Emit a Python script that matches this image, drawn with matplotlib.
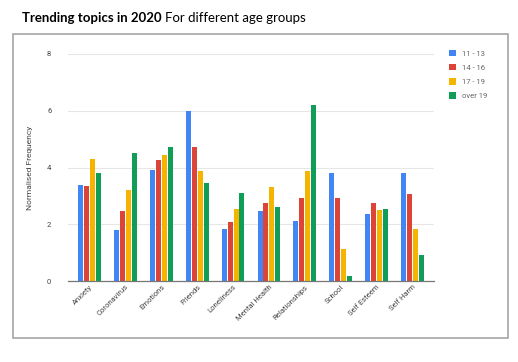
import matplotlib
matplotlib.use("Agg")
import matplotlib.pyplot as plt
from matplotlib.patches import Rectangle
import numpy as np

# datos
temas = ["Anxiety", "Coronavirus", "Emotions", "Friends", "Loneliness",
         "Mental Health", "Relationships", "School", "Self Esteem", "Self Harm"]
grupos = ["11 - 13", "14 - 16", "17 - 19", "over 19"]
edad_11_13 = [3.39, 1.78, 3.92, 5.98, 1.82, 2.45, 2.12, 3.80, 2.35, 3.80]
edad_14_16 = [3.36, 2.48, 4.25, 4.74, 2.07, 2.74, 2.94, 2.94, 2.74, 3.06]
edad_17_19 = [4.31, 3.21, 4.45, 3.89, 2.54, 3.31, 3.88, 1.13, 2.50, 1.82]
edad_19_mas = [3.80, 4.50, 4.74, 3.45, 3.09, 2.60, 6.20, 0.18, 2.55, 0.90]
series = [edad_11_13, edad_14_16, edad_17_19, edad_19_mas]
colores = ["#4285F4", "#DB4437", "#F4B400", "#0F9D58"]

plt.rcParams["font.family"] = ["Roboto", "DejaVu Sans"]

W, H = 518, 362
fig = plt.figure(figsize=(W / 100, H / 100), dpi=100)

# marco gris alrededor del grafico
marco = Rectangle((13 / W, 1 - 338 / H), (508 - 13) / W, (338 - 34) / H,
                  transform=fig.transFigure, fill=False, edgecolor="#a6a6a6", lw=1.2)
fig.patches.append(marco)

ax = fig.add_axes([68 / W, 1 - 281 / H, (434 - 68) / W, (281 - 54) / H])

x = np.arange(len(temas))
ancho = 0.14
paso = 0.165
for i, (valores, color, nombre) in enumerate(zip(series, colores, grupos)):
    ax.bar(x + (i - 1.5) * paso, valores, width=ancho, color=color, label=nombre, zorder=3)

ax.set_ylim(0, 8)
ax.set_xlim(-0.6, len(temas) - 0.4)
ax.set_yticks([0, 2, 4, 6, 8])
ax.grid(axis="y", color="#e6e6e6", lw=0.8, zorder=0)
for lado in ["top", "right", "left"]:
    ax.spines[lado].set_visible(False)
ax.spines["bottom"].set_color("#777777")
ax.spines["bottom"].set_linewidth(0.9)
ax.spines["bottom"].set_zorder(4)
ax.tick_params(axis="both", length=0, labelsize=5.5, colors="#444444")
ax.tick_params(axis="y", pad=12)
ax.set_xticks(x)
ax.set_xticklabels(temas, rotation=45, ha="right", rotation_mode="anchor")
ax.tick_params(axis="x", pad=2)
ax.set_ylabel("Normalised Frequency", fontsize=6, color="#444444", labelpad=10)

fig.legend(loc="upper left", bbox_to_anchor=(446 / W, 1 - 47 / H), frameon=False,
           fontsize=5.5, labelcolor="#666666", handlelength=0.9, handleheight=0.9,
           handletextpad=0.8, labelspacing=0.95, borderaxespad=0)

# titulo en dos partes
t1 = fig.text(22 / W, 1 - 18 / H, "Trending topics in 2020", fontsize=9.5,
              fontweight="bold", family="Lato", va="center", ha="left")
fig.canvas.draw()
caja = t1.get_window_extent()
fig.text(caja.x1 / W + 3 / W, 1 - 18 / H, "For different age groups", fontsize=9.5,
         family="Lato", va="center", ha="left")

fig.savefig("out.png", dpi=100)
